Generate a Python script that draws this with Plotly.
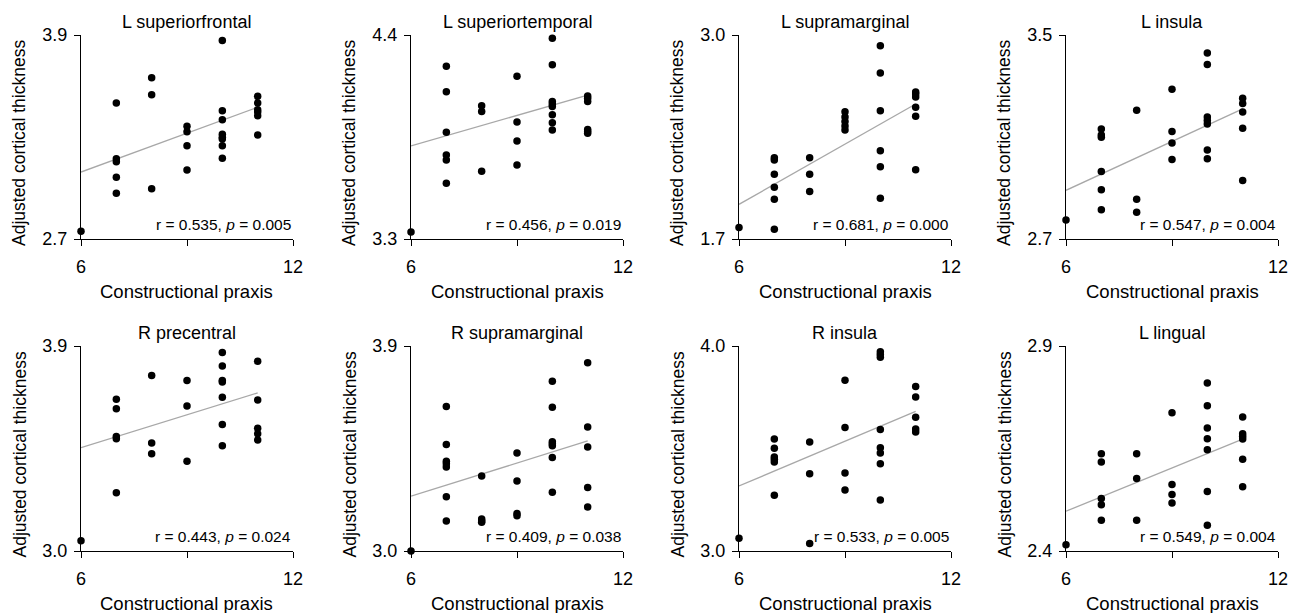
import plotly.graph_objects as go

# ---------------- data ----------------
titles = ["L superiorfrontal", "L superiortemporal", "L supramarginal", "L insula",
          "R precentral", "R supramarginal", "R insula", "L lingual"]
stats_r = ["0.535", "0.456", "0.681", "0.547", "0.443", "0.409", "0.533", "0.549"]
stats_p = ["0.005", "0.019", "0.000", "0.004", "0.024", "0.038", "0.005", "0.004"]
y_min = [2.7, 3.3, 1.7, 2.7, 3.0, 3.0, 3.0, 2.4]
y_max = [3.9, 4.4, 3.0, 3.5, 3.9, 3.9, 4.0, 2.9]
x_ticks = [6, 9, 12]
x_ticktext = ["6", "", "12"]

# regression line values at x = 6 and x = 11
fit_x = [6, 11]
fit_y_start = [3.094, 3.802, 1.921, 2.891, 3.454, 3.241, 3.317, 2.497]
fit_y_end = [3.475, 4.076, 2.560, 3.210, 3.694, 3.483, 3.681, 2.673]

x_sf = [6, 7, 7, 7, 7, 7, 8, 8, 8, 9, 9, 9, 9, 10, 10, 10, 10, 10, 10, 10, 10, 11, 11, 11, 11, 11, 11]
y_sf = [2.745, 3.50, 3.172, 3.155, 3.063, 2.969, 3.649, 3.549, 2.996, 3.363, 3.331, 3.249, 3.106,
        3.867, 3.455, 3.402, 3.316, 3.298, 3.288, 3.249, 3.175, 3.539, 3.50, 3.461, 3.447, 3.425, 3.312]

x_st = [6, 7, 7, 7, 7, 7, 7, 8, 8, 8, 9, 9, 9, 9, 10, 10, 10, 10, 10, 10, 10, 10, 11, 11, 11, 11, 11, 11]
y_st = [3.338, 4.231, 4.094, 3.875, 3.753, 3.726, 3.600, 4.019, 3.987, 3.665, 4.177, 3.931, 3.828, 3.699,
        4.382, 4.240, 4.041, 4.028, 4.014, 3.970, 3.927, 3.888, 4.071, 4.059, 4.041, 3.891, 3.879, 3.870]

x_sm = [6, 7, 7, 7, 7, 7, 7, 8, 8, 8, 9, 9, 9, 9, 9, 10, 10, 10, 10, 10, 10, 11, 11, 11, 11, 11, 11]
y_sm = [1.774, 2.218, 2.203, 2.112, 2.029, 1.953, 1.762, 2.218, 2.112, 2.002, 2.511, 2.477, 2.448, 2.420, 2.395,
        2.932, 2.758, 2.518, 2.263, 2.161, 1.959, 2.637, 2.624, 2.605, 2.539, 2.482, 2.142]

x_in = [6, 7, 7, 7, 7, 7, 7, 8, 8, 8, 9, 9, 9, 9, 10, 10, 10, 10, 10, 10, 10, 11, 11, 11, 11, 11]
y_in = [2.775, 3.131, 3.108, 3.099, 2.965, 2.893, 2.815, 3.205, 2.856, 2.805, 3.287, 3.122, 3.076, 3.012,
        3.429, 3.384, 3.178, 3.165, 3.151, 3.049, 3.015, 3.252, 3.231, 3.198, 3.134, 2.929]

x_rpc = [6, 7, 7, 7, 7, 7, 8, 8, 8, 9, 9, 9, 10, 10, 10, 10, 10, 10, 10, 11, 11, 11, 11, 11]
y_rpc = [3.045, 3.666, 3.625, 3.503, 3.493, 3.256, 3.770, 3.474, 3.427, 3.749, 3.637, 3.394,
         3.871, 3.812, 3.749, 3.742, 3.675, 3.555, 3.462, 3.833, 3.663, 3.539, 3.515, 3.487]

x_rsm = [6, 7, 7, 7, 7, 7, 7, 7, 8, 8, 8, 8, 9, 9, 9, 9, 10, 10, 10, 10, 10, 10, 10, 11, 11, 11, 11, 11]
y_rsm = [3.0, 3.634, 3.468, 3.394, 3.383, 3.369, 3.238, 3.132, 3.329, 3.140, 3.132, 3.126,
         3.430, 3.307, 3.165, 3.155, 3.745, 3.631, 3.480, 3.471, 3.462, 3.410, 3.258,
         3.827, 3.544, 3.457, 3.279, 3.193]

x_rin = [6, 7, 7, 7, 7, 7, 7, 8, 8, 8, 9, 9, 9, 9, 10, 10, 10, 10, 10, 10, 10, 10, 11, 11, 11, 11, 11]
y_rin = [3.062, 3.546, 3.501, 3.459, 3.447, 3.434, 3.272, 3.532, 3.377, 3.036, 3.833, 3.603, 3.380, 3.298,
         3.972, 3.959, 3.945, 3.593, 3.504, 3.478, 3.426, 3.249, 3.802, 3.751, 3.652, 3.595, 3.580]

x_lg = [6, 7, 7, 7, 7, 7, 8, 8, 8, 9, 9, 9, 9, 10, 10, 10, 10, 10, 10, 10, 11, 11, 11, 11, 11, 11]
y_lg = [2.415, 2.637, 2.617, 2.528, 2.513, 2.475, 2.637, 2.577, 2.475, 2.737, 2.562, 2.538, 2.517,
        2.810, 2.754, 2.700, 2.674, 2.647, 2.545, 2.463, 2.727, 2.686, 2.680, 2.673, 2.624, 2.557]

xs_all = [x_sf, x_st, x_sm, x_in, x_rpc, x_rsm, x_rin, x_lg]
ys_all = [y_sf, y_st, y_sm, y_in, y_rpc, y_rsm, y_rin, y_lg]

# ---------------- layout geometry (pixels) ----------------
W, H = 1299, 613
col_left = [81, 411, 739, 1066]
col_right = [293, 623, 951, 1278]
row_top = [35, 346]
row_bottom = [239, 551]
FONT = "Liberation Sans, Arial, sans-serif"

fig = go.Figure()
annotations = []
layout_axes = {}

for i in range(8):
    r, c = divmod(i, 4)
    n = "" if i == 0 else str(i + 1)
    xa, ya = "x" + n, "y" + n
    fig.add_trace(go.Scatter(x=fit_x, y=[fit_y_start[i], fit_y_end[i]], mode="lines",
                             line=dict(color="#a8a8a8", width=1.3),
                             xaxis=xa, yaxis=ya, hoverinfo="skip", showlegend=False))
    fig.add_trace(go.Scatter(x=xs_all[i], y=ys_all[i], mode="markers",
                             marker=dict(color="black", size=7.5, line=dict(width=0)),
                             cliponaxis=False, xaxis=xa, yaxis=ya, showlegend=False))
    x0, x1 = col_left[c] / W, col_right[c] / W
    y0, y1 = 1 - row_bottom[r] / H, 1 - row_top[r] / H
    common = dict(showline=True, linecolor="black", linewidth=1.3, ticks="outside",
                  ticklen=6, tickwidth=1.3, tickcolor="black", showgrid=False, zeroline=False,
                  automargin=False, tickfont=dict(family=FONT, size=18, color="black"))
    layout_axes["xaxis" + n] = dict(domain=[x0, x1], anchor=ya, range=[6, 12],
                                    tickvals=x_ticks, ticktext=x_ticktext,
                                    ticklabelstandoff=5, **common)
    layout_axes["yaxis" + n] = dict(domain=[y0, y1], anchor=xa, range=[y_min[i], y_max[i]],
                                    tickvals=[y_min[i], y_max[i]],
                                    ticktext=["%.1f" % y_min[i], "%.1f" % y_max[i]],
                                    ticklabelstandoff=3, **common)
    cx = (col_left[c] + col_right[c]) / 2
    # subplot title
    annotations.append(dict(text=titles[i], x=cx / W, y=1 - (row_top[r] - 13) / H,
                            xref="paper", yref="paper", xanchor="center", yanchor="middle",
                            showarrow=False, font=dict(family=FONT, size=18, color="black")))
    # x title
    annotations.append(dict(text="Constructional praxis", x=cx / W, y=1 - (row_bottom[r] + 52) / H,
                            xref="paper", yref="paper", xanchor="center", yanchor="middle",
                            showarrow=False, font=dict(family=FONT, size=18.5, color="black")))
    # y title
    annotations.append(dict(text="Adjusted cortical thickness", x=(col_left[c] - 62) / W,
                            y=1 - ((row_top[r] + row_bottom[r]) / 2 + 6) / H,
                            xref="paper", yref="paper", xanchor="center", yanchor="middle",
                            textangle=-90, showarrow=False,
                            font=dict(family=FONT, size=17.5, color="black")))
    # stats
    annotations.append(dict(text="r = %s, <i>p</i> = %s" % (stats_r[i], stats_p[i]),
                            x=col_right[c] / W, y=1 - (row_bottom[r] - 4) / H,
                            xref="paper", yref="paper", xanchor="right", yanchor="bottom",
                            showarrow=False, font=dict(family=FONT, size=15.5, color="black")))

fig.update_layout(width=W, height=H, margin=dict(l=0, r=0, t=0, b=0, pad=0, autoexpand=False),
                  plot_bgcolor="white", paper_bgcolor="white", showlegend=False,
                  annotations=annotations, **layout_axes)
fig.write_html("out.html")
